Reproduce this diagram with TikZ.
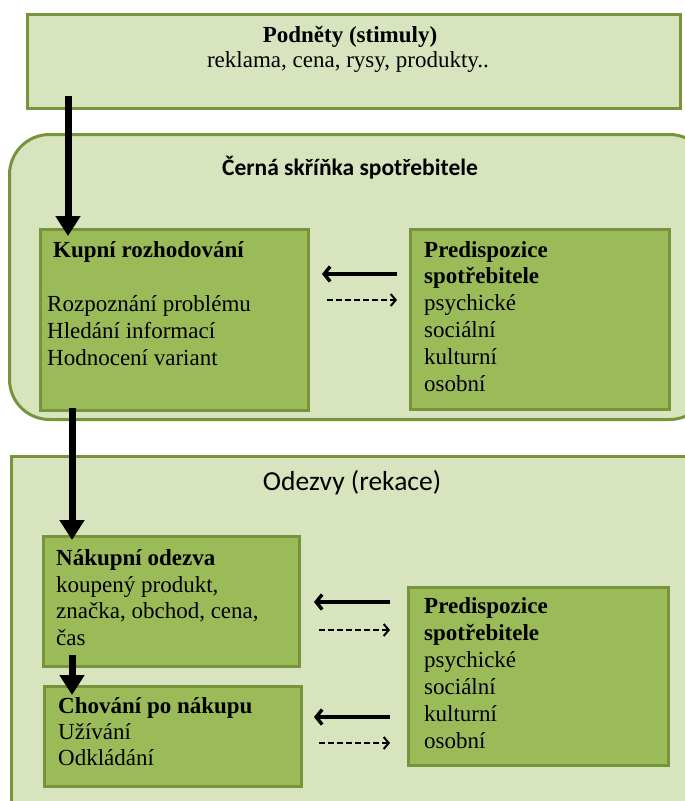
\documentclass[tikz,border=0pt]{standalone}
\usepackage{fontspec}
\setmainfont{Liberation Serif}
\newfontfamily\calibrifont{Carlito}
\usetikzlibrary{arrows.meta,calc}
\definecolor{lightgreen}{HTML}{D7E4BD}
\definecolor{midgreen}{HTML}{9BBB59}
\definecolor{boxborder}{HTML}{77933C}
\begin{document}
\begin{tikzpicture}[x=1pt,y=-1pt,
  lightbox/.style={draw=boxborder, line width=3pt, fill=lightgreen, inner sep=0pt, anchor=north west},
  darkbox/.style={draw=boxborder, line width=3pt, fill=midgreen, inner sep=0pt, anchor=north west},
  bigarrow/.style={line width=7pt, -{Triangle[width=24pt,length=20pt]}},
  solidarr/.style={line width=3.4pt, -{Straight Barb[length=6pt,width=15pt]}},
  dasharr/.style={line width=2pt, dash pattern=on 6pt off 3pt, -{Straight Barb[length=5pt,width=12pt]}},
  txt/.style={font=\fontsize{23}{27}\selectfont, inner sep=0pt, anchor=base west},
  ttl/.style={font=\fontsize{23}{27}\selectfont\bfseries, inner sep=0pt, anchor=base west},
]
\useasboundingbox (0,0) rectangle (685,801);
\fill[white] (0,0) rectangle (685,801);
% boxes
\node[lightbox, minimum width=653pt, minimum height=94pt] (stim) at (26,13) {};
\node[lightbox, rounded corners=40pt, minimum width=700pt, minimum height=285pt] (black) at (8,133) {};
\node[darkbox, minimum width=268pt, minimum height=181pt] (kupni) at (38.5,228) {};
\node[darkbox, minimum width=259pt, minimum height=180pt] (pred1) at (409,228) {};
\node[lightbox, minimum width=700pt, minimum height=360pt] (odezvy) at (10,455) {};
\node[darkbox, minimum width=256pt, minimum height=130pt] (nak) at (42,535) {};
\node[darkbox, minimum width=257pt, minimum height=100pt] (chov) at (43,685) {};
\node[darkbox, minimum width=260pt, minimum height=178pt] (pred2) at (407,586) {};
% texts
\node[ttl, anchor=base] (stimt) at (350,42) {Podněty (stimuly)};
\node[txt, anchor=base] (stimd) at (348,67) {reklama, cena, rysy, produkty..};
\node[inner sep=0pt, anchor=base, font=\calibrifont\bfseries\fontsize{23.5}{27}\selectfont] (blackt) at (350,175) {Černá skříňka spotřebitele};
\node[inner sep=0pt, anchor=base, font=\calibrifont\fontsize{27.5}{31}\selectfont] (odezvyt) at (352,490) {Odezvy (rekace)};
% Kupni
\node[ttl] (k0) at (53,257) {Kupní rozhodování};
\node[txt] (k1) at (47,311) {Rozpoznání problému};
\node[txt] (k2) at (47,338) {Hledání informací};
\node[txt] (k3) at (47,365) {Hodnocení variant};
% Pred1
\node[ttl] (p10) at (424,257) {Predispozice};
\node[ttl] (p11) at (424,283) {spotřebitele};
\node[txt] (p12) at (424,310) {psychické};
\node[txt] (p13) at (424,337) {sociální};
\node[txt] (p14) at (424,364) {kulturní};
\node[txt] (p15) at (424,391) {osobní};
% Nakupni
\node[ttl] (n0) at (56,565) {Nákupní odezva};
\node[txt] (n1) at (56,592) {koupený produkt,};
\node[txt] (n2) at (56,618) {značka, obchod, cena,};
\node[txt] (n3) at (56,645) {čas};
% Chovani
\node[ttl] (c0) at (58,713) {Chování po nákupu};
\node[txt] (c1) at (58,739) {Užívání};
\node[txt] (c2) at (58,765) {Odkládání};
% Pred2
\node[ttl] (p20) at (424,613) {Predispozice};
\node[ttl] (p21) at (424,640) {spotřebitele};
\node[txt] (p22) at (424,667) {psychické};
\node[txt] (p23) at (424,694) {sociální};
\node[txt] (p24) at (424,721) {kulturní};
\node[txt] (p25) at (424,748) {osobní};
% arrows
\draw[bigarrow] ([shift={(42,-14)}]stim.south west) -- ([shift={(29.5,8)}]kupni.north west);
\draw[bigarrow] ([shift={(33.5,-4)}]kupni.south west) -- ([shift={(30,5)}]nak.north west);
\draw[bigarrow] ([shift={(30,-13)}]nak.south west) -- ([shift={(29,10)}]chov.north west);
\draw[solidarr] ([shift={(-12,46)}]pred1.north west) -- ([shift={(12.5,46)}]kupni.north east);
\draw[dasharr] ([shift={(17.5,72)}]kupni.north east) -- ([shift={(-12,72)}]pred1.north west);
\draw[solidarr] ([shift={(-17,16)}]pred2.north west) -- ([shift={(13,67)}]nak.north east);
\draw[dasharr] ([shift={(18,95)}]nak.north east) -- ([shift={(-17,44)}]pred2.north west);
\draw[solidarr] ([shift={(-17,131)}]pred2.north west) -- ([shift={(11,32)}]chov.north east);
\draw[dasharr] ([shift={(16,58)}]chov.north east) -- ([shift={(-17,157)}]pred2.north west);
\end{tikzpicture}
\end{document}
